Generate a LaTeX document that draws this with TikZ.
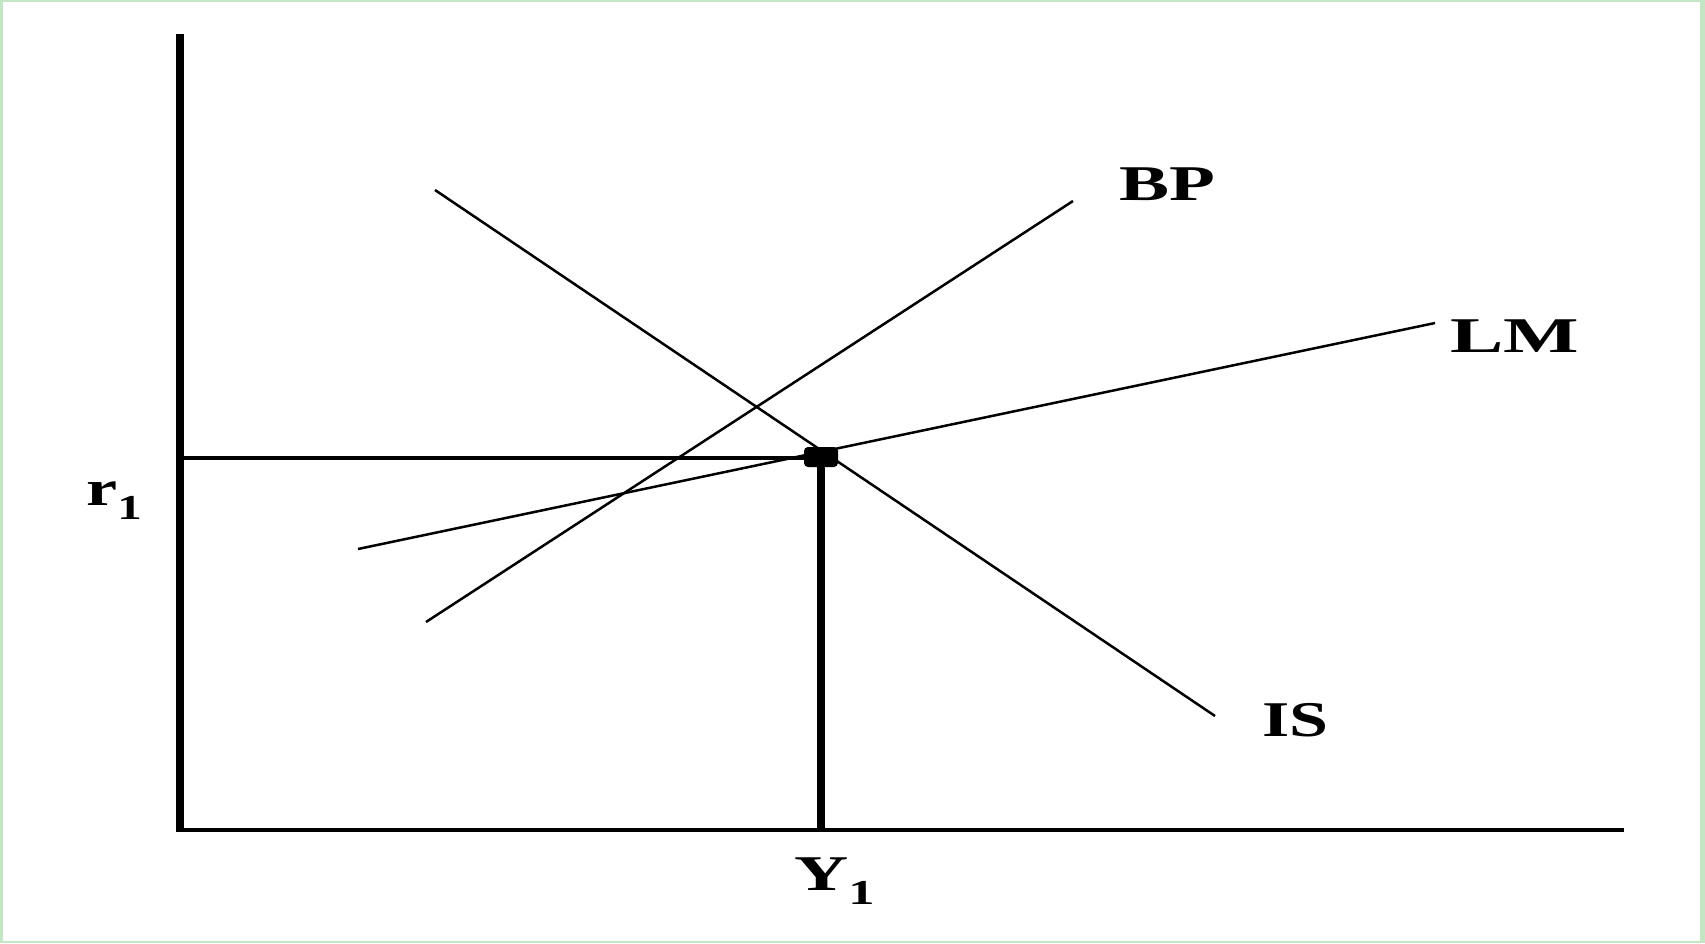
\documentclass[tikz,border=0pt]{standalone}
\usepackage{fontspec}
\setmainfont{Liberation Serif}
\definecolor{frame}{RGB}{196,230,196}
\begin{document}
\begin{tikzpicture}[x=1pt,y=-1pt,
  curve/.style={line width=2.5pt},
  axis/.style={line width=8pt},
  guide/.style={line width=4pt},
  lbl/.style={inner sep=0pt,anchor=base west,font=\fontsize{50}{60}\selectfont\bfseries}]
\useasboundingbox (0,0) rectangle (1705,943);
\fill[white] (0,0) rectangle (1705,943);
\fill[frame] (0,0) rectangle (1705,2);
\fill[frame] (0,0) rectangle (3,943);
\fill[frame] (1700,0) rectangle (1705,943);
\fill[frame] (0,941) rectangle (1705,943);
% axes
\coordinate (ytop) at (180,34);
\coordinate (ybot) at (180,832);
\coordinate (xl) at (176,830);
\coordinate (xr) at (1624,830);
\draw[axis] (ytop) -- (ybot);
\draw[guide] (xl) -- (xr);
% curves
\coordinate (is1) at (435,190);
\coordinate (is2) at (1215,716);
\coordinate (bp1) at (426,622);
\coordinate (bp2) at (1073,201);
\coordinate (lm1) at (358,549);
\coordinate (lm2) at (1435,323);
\draw[curve] (is1) -- (is2);
\draw[curve] (bp1) -- (bp2);
\draw[curve] (lm1) -- (lm2);
% equilibrium point
\node[fill=black,rectangle,rounded corners=4pt,minimum width=34pt,minimum height=20pt,inner sep=0pt] (dot) at (821,457) {};
\coordinate (rstart) at (184,458);
\coordinate (yfoot) at (821,830);
\draw[guide] (rstart) -- (rstart -| dot.west);
\draw[axis] (dot.center) -- (yfoot);
% labels
\node[lbl] (BP) at (1119,200) {\scalebox{1.5}[1]{BP}};
\node[lbl] (LM) at (1450,352) {\scalebox{1.6}[1]{LM}};
\node[lbl] (IS) at (1262,736) {\scalebox{1.4}[1]{IS}};
\node[lbl] (r) at (86,505) {\scalebox{1.4}[1]{r\textsubscript{1}}};
\node[lbl] (Y) at (794,890) {\scalebox{1.5}[1]{Y\textsubscript{1}}};
\end{tikzpicture}
\end{document}
